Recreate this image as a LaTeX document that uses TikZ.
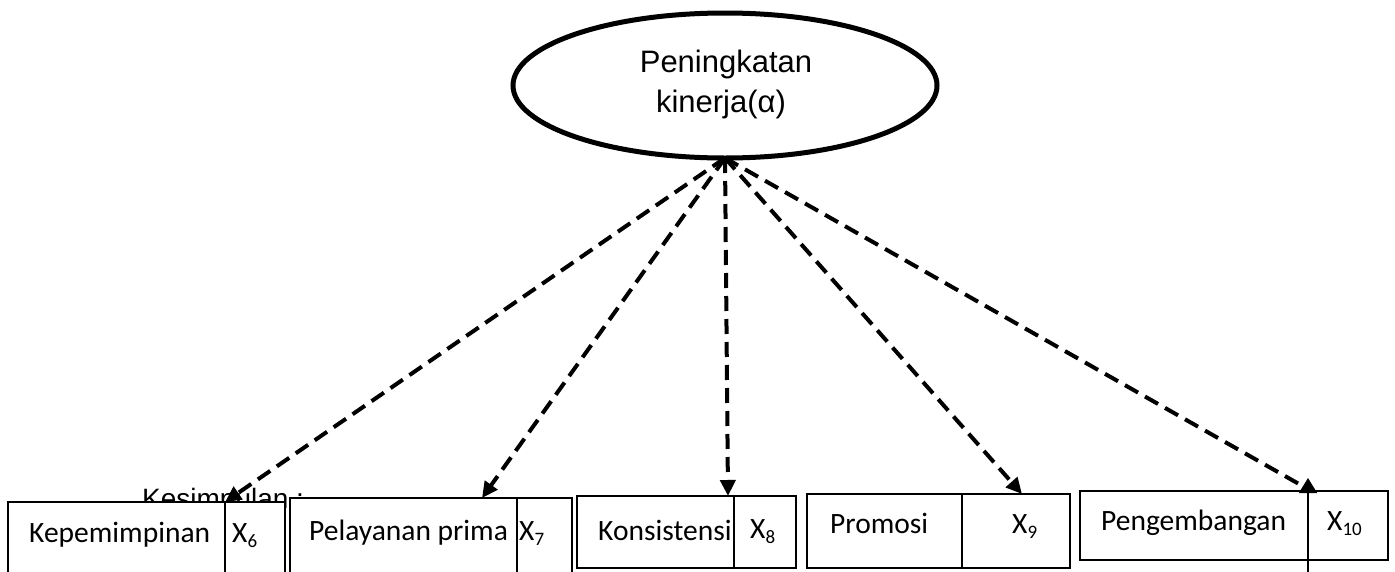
\documentclass[tikz,border=0pt]{standalone}
\usepackage{fontspec}
\setmainfont{Carlito}
\newfontfamily\arialfont{Liberation Sans}
\usetikzlibrary{shapes.geometric,arrows.meta,calc}

% variable name X with a lowered index
\newcommand{\xsub}[1]{X\raisebox{-5pt}{\fontsize{19}{19}\selectfont #1}}

\begin{document}
\begin{tikzpicture}[x=1pt,y=-1pt,
  cell/.style={draw, line width=1.8pt, fill=white, anchor=north west,
    inner sep=0pt, outer sep=0pt},
  boxtext/.style={anchor=base west, inner sep=0pt,
    font=\fontsize{29.5}{29.5}\selectfont},
  titletext/.style={anchor=base, inner sep=0pt,
    font=\arialfont\fontsize{31}{31}\selectfont},
  link/.style={line width=4pt, dash pattern=on 15pt off 8pt,
    -{Triangle[length=16pt,width=15pt]}}]

\useasboundingbox (0,0) rectangle (1395,571);
\clip (0,0) rectangle (1395,571);

% goal ellipse
\node[draw, ellipse, line width=5pt, minimum width=424pt, minimum height=145pt,
  inner sep=0pt, outer sep=0pt] (goal) at (725,85.5) {};
\node[titletext] (goal1) at (726,72) {Peningkatan};
\node[titletext] (goal2) at (721,112) {kinerja(α)};

% heading partly hidden behind the boxes
\node[anchor=base west, inner sep=0pt,
  font=\arialfont\fontsize{28}{28}\selectfont] (kes) at (142,508) {Kesimpulan :};

% indicator boxes: name cell + variable cell
\node[cell, minimum width=217pt, minimum height=78pt] (b1a) at (8,502) {};
\node[cell, minimum width=60pt,  minimum height=78pt] (b1b) at (225,502) {};
\node[cell, minimum width=227pt, minimum height=82pt] (b2a) at (290,498) {};
\node[cell, minimum width=55pt,  minimum height=82pt] (b2b) at (517,498) {};
\node[cell, minimum width=157pt, minimum height=72pt] (b3a) at (577,496) {};
\node[cell, minimum width=62pt,  minimum height=72pt] (b3b) at (734,496) {};
\node[cell, minimum width=155pt, minimum height=74pt] (b4a) at (807,494) {};
\node[cell, minimum width=108pt, minimum height=74pt] (b4b) at (962,494) {};
\node[cell, minimum width=228pt, minimum height=69pt] (b5a) at (1080,491) {};
\node[cell, minimum width=80pt,  minimum height=69pt] (b5b) at (1308,491) {};

\node[boxtext] (n1) at (29,542)   {Kepemimpinan};
\node[boxtext] (x1) at (232,542)  {\xsub{6}};
\node[boxtext] (n2) at (309,540)  {Pelayanan prima};
\node[boxtext] (x2) at (519,540)  {\xsub{7}};
\node[boxtext] (n3) at (598,540)  {Konsistensi};
\node[boxtext] (x3) at (750,538)  {\xsub{8}};
\node[boxtext] (n4) at (830,533)  {Promosi};
\node[boxtext] (x4) at (1012,533) {\xsub{9}};
\node[boxtext] (n5) at (1101,530) {Pengembangan};
\node[boxtext] (x5) at (1327,530) {\xsub{10}};

% arrow ends on the box tops
\coordinate (t1) at (225,502);
\coordinate (t2) at (482,498);
\coordinate (t3) at (728,496);
\coordinate (t4) at (1022,494);
\coordinate (t5) at (1299,484);
\coordinate (d5bot) at (1308,575);
\coordinate (d5top) at (1308,478);

\draw[link] (goal.south) -- (t1);
\draw[link] (goal.south) -- (t2);
\draw[link] (goal.south) -- (t3);
\draw[link] (goal.south) -- (t4);
\draw[link, -] (goal.south) -- (t5);
\draw[line width=1.8pt, -{Triangle[length=15pt,width=18pt]}] (d5bot) -- (d5top);

\end{tikzpicture}
\end{document}
